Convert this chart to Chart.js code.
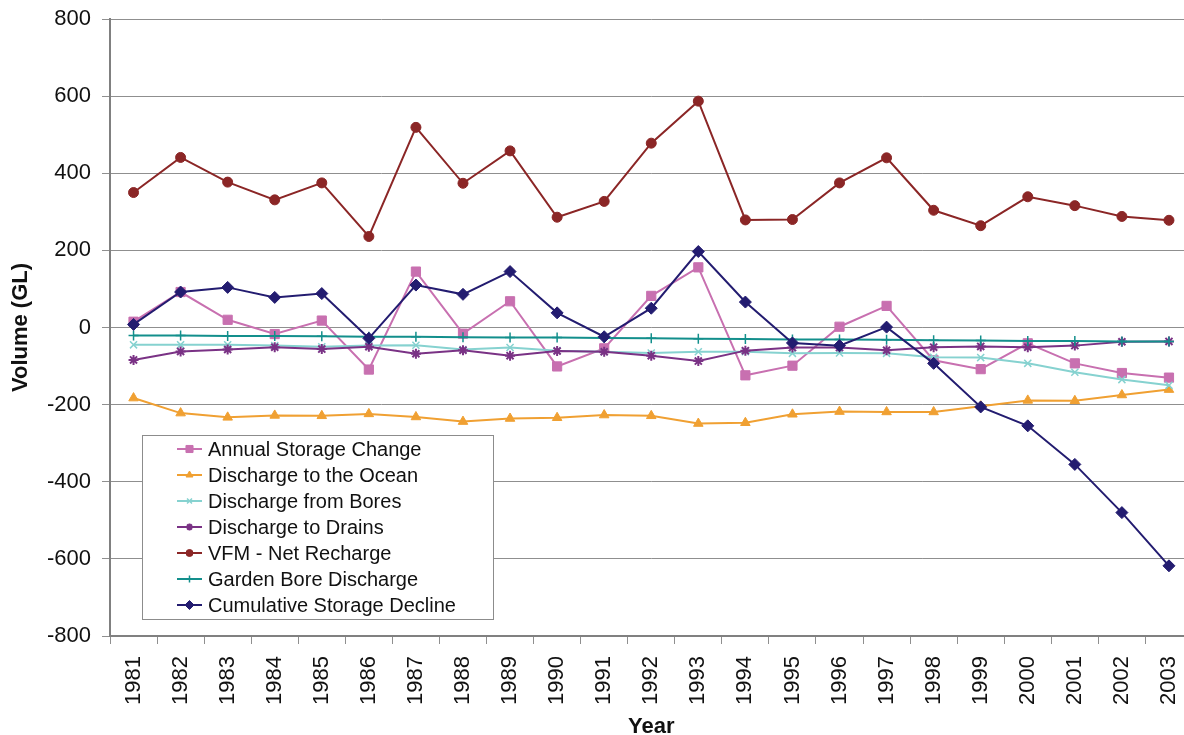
<!DOCTYPE html>
<html>
<head>
<meta charset="utf-8">
<title>Groundwater balance</title>
<script src="https://cdn.jsdelivr.net/npm/chart.js@4.4.1/dist/chart.umd.min.js"></script>
<style>
  html, body { margin: 0; padding: 0; background: #fff; overflow: hidden; }
  canvas { display: block; }
</style>
</head>
<body>
<canvas id="balance" width="1200" height="735"></canvas>
<script>
const years = ['1981', '1982', '1983', '1984', '1985', '1986', '1987', '1988', '1989', '1990', '1991', '1992',
               '1993', '1994', '1995', '1996', '1997', '1998', '1999', '2000', '2001', '2002', '2003'];

const annualStorageChange = [15, 92, 20, -17, 18, -109, 145, -16, 68, -101, -54, 82, 156, -124, -99, 2, 56, -85, -108, -41, -93, -118, -130];
const dischargeOcean = [-183, -222, -233, -228, -229, -224, -232, -244, -236, -234, -227, -229, -249, -247, -225, -218, -219, -219, -204, -189, -190, -175, -161];
const dischargeBores = [-45, -45, -45, -47, -50, -47, -46, -57, -52, -60, -63, -66, -63, -63, -67, -66, -67, -77, -78, -93, -116, -135, -150];
const dischargeDrains = [-84, -62, -57, -51, -56, -50, -68, -59, -73, -61, -63, -73, -87, -60, -52, -52, -59, -51, -49, -51, -47, -37, -36];
const netRecharge = [350, 441, 377, 331, 375, 236, 519, 374, 458, 286, 327, 478, 587, 279, 280, 375, 440, 304, 264, 339, 316, 288, 278];
const gardenBore = [-21, -21, -22, -22, -23, -24, -24, -25, -26, -26, -27, -28, -29, -30, -31, -31, -32, -33, -34, -35, -35, -36, -36];
const cumulativeDecline = [8, 92, 104, 78, 88, -28, 110, 86, 145, 38, -24, 50, 197, 66, -40, -47, 1, -93, -206, -255, -355, -480, -618];

const yTicks = { min: -800, max: 800, step: 200 };

const FONT = '"Liberation Sans", Arial, sans-serif';

function series(label, data, color, style, radius, pointBorder, order) {
  return {
    label, data,
    borderColor: color,
    backgroundColor: color,
    borderWidth: 2,
    pointStyle: style,
    pointRadius: radius,
    pointBorderWidth: pointBorder,
    pointBackgroundColor: color,
    pointBorderColor: color,
    tension: 0,
    order
  };
}

// boxed legend sitting inside the plot, lower left
const boxLegend = {
  id: 'boxLegend',
  afterDraw(chart) {
    const { ctx, chartArea } = chart;
    const x = chartArea.left + 32, y = chartArea.top + 416, w = 351, h = 184;
    ctx.save();
    ctx.fillStyle = '#fff';
    ctx.fillRect(x, y, w, h);
    ctx.strokeStyle = '#8c8c8c';
    ctx.lineWidth = 1;
    ctx.strokeRect(x + 0.5, y + 0.5, w, h);
    ctx.font = '20px ' + FONT;
    ctx.textBaseline = 'middle';
    chart.data.datasets.forEach((ds, i) => {
      const cy = y + 14 + i * 26;
      ctx.strokeStyle = ds.borderColor;
      ctx.lineWidth = 2;
      ctx.beginPath();
      ctx.moveTo(x + 35, cy);
      ctx.lineTo(x + 60, cy);
      ctx.stroke();
      ctx.fillStyle = ds.borderColor;
      ctx.lineWidth = ds.pointBorderWidth;
      Chart.helpers.drawPoint(ctx, {
        pointStyle: ds.pointStyle,
        radius: Math.max(ds.pointRadius - 1.5, 3.5),
        borderWidth: ds.pointBorderWidth,
        rotation: 0
      }, x + 47.5, cy);
      ctx.fillStyle = '#111';
      ctx.fillText(ds.label, x + 66, cy + 1);
    });
    ctx.restore();
  }
};

new Chart(document.getElementById('balance'), {
  type: 'line',
  data: {
    labels: years,
    datasets: [
      series('Annual Storage Change', annualStorageChange, '#c870b0', 'rect', 6.5, 1, 7),
      series('Discharge to the Ocean', dischargeOcean, '#f0a032', 'triangle', 5.5, 1, 6),
      series('Discharge from Bores', dischargeBores, '#86d2d0', 'crossRot', 5, 1.5, 5),
      series('Discharge to Drains', dischargeDrains, '#7a3285', 'star', 5, 2, 4),
      series('VFM - Net Recharge', netRecharge, '#8b2626', 'circle', 5, 1, 3),
      series('Garden Bore Discharge', gardenBore, '#138f8c', 'cross', 5, 1.5, 2),
      series('Cumulative Storage Decline', cumulativeDecline, '#231c70', 'rectRot', 6, 1, 1)
    ]
  },
  options: {
    responsive: false,
    animation: false,
    devicePixelRatio: 1,
    layout: { padding: { top: 19, right: 7, left: 0, bottom: 0 } },
    plugins: {
      legend: { display: false },
      tooltip: { enabled: false }
    },
    scales: {
      x: {
        offset: true,
        grid: { offset: true, drawOnChartArea: false, tickLength: 8, color: '#8f8f8f', lineWidth: 1 },
        border: { color: '#808080', width: 2 },
        ticks: {
          minRotation: 90, maxRotation: 90, autoSkip: false, padding: 12,
          color: '#111', font: { family: FONT, size: 22 }
        },
        title: {
          display: true, text: 'Year', color: '#111',
          font: { family: FONT, size: 22, weight: 'bold', lineHeight: 0.75 },
          padding: { top: 0, bottom: 0 }
        },
        afterFit(scale) {
          scale.height = 99;
          scale.paddingLeft = 0;
          scale.paddingRight = 0;
        }
      },
      y: {
        min: yTicks.min,
        max: yTicks.max,
        grid: { color: '#8f8f8f', lineWidth: 1, tickLength: 8 },
        border: { color: '#808080', width: 2 },
        ticks: {
          stepSize: yTicks.step, padding: 11,
          color: '#111', font: { family: FONT, size: 22 }
        },
        title: {
          display: true, text: 'Volume (GL)', color: '#111',
          font: { family: FONT, size: 22, weight: 'bold' },
          padding: { top: 8, bottom: 0 }
        },
        afterFit(scale) {
          scale.width = 110;
          scale.paddingTop = 0;
          scale.paddingBottom = 0;
        }
      }
    }
  },
  plugins: [boxLegend]
});
</script>
</body>
</html>
